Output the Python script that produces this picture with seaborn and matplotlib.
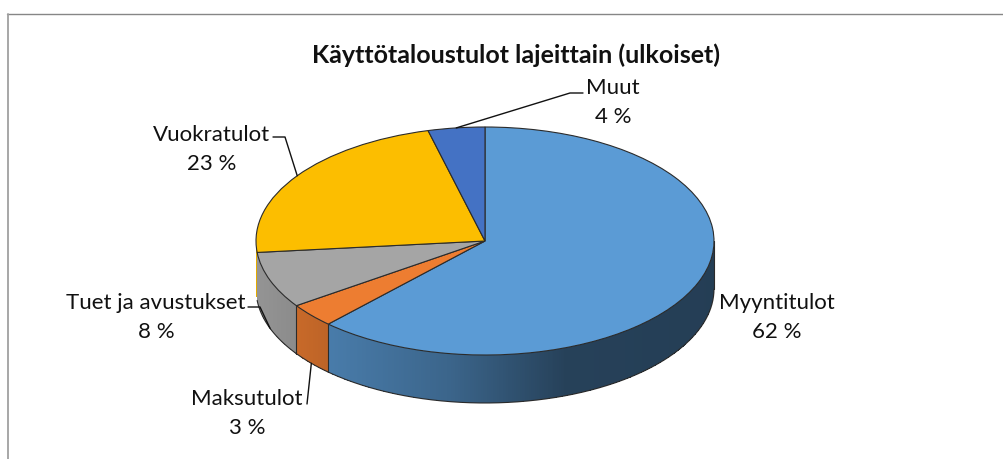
import numpy as np
import matplotlib
matplotlib.use('Agg')
import matplotlib.pyplot as plt
from matplotlib.lines import Line2D
import seaborn as sns

# data
title = 'Käyttötaloustulot lajeittain (ulkoiset)'
categories = ['Myyntitulot', 'Maksutulot', 'Tuet ja avustukset', 'Vuokratulot', 'Muut']
values = [62.0, 3.4, 8.0, 22.6, 4.0]
slice_colors = ['#5B9BD5', '#ED7D31', '#A5A5A5', '#FCBE00', '#4472C4']

W, H = 1004, 459
CX, CY = 485, 241      # centre of the pie top, pixels
RX, RY = 229, 114      # ellipse radii, pixels
DEPTH = 48 / RY        # disc thickness in y units

sns.set_theme(style='white')
plt.rcParams['font.family'] = ['Lato', 'DejaVu Sans']
palette = sns.color_palette(slice_colors)

fig = plt.figure(figsize=(W / 100, H / 100), dpi=100, facecolor='white')
ax = fig.add_axes([0, 0, 1, 1])

# top of the disc
wedges, _ = ax.pie(values, colors=palette, startangle=90, counterclock=False,
                   radius=1, wedgeprops={'edgecolor': '#2b2b2b', 'linewidth': 0.8, 'zorder': 5})
ax.set_aspect('auto')

# clockwise angle from 12 o'clock
edges = np.cumsum([0] + values) / sum(values) * 2 * np.pi
mids = (edges[:-1] + edges[1:]) / 2


def shade(x):
    # side wall gets darker towards the right
    return np.interp(x, [-1, -0.69, -0.15, 0.35, 1], [0.9, 0.8, 0.65, 0.42, 0.40])


# side wall, only the front half of the rim
for i, col in enumerate(palette):
    a0 = max(edges[i], np.pi / 2)
    a1 = min(edges[i + 1], 3 * np.pi / 2)
    if a1 <= a0:
        continue
    th = np.linspace(a0, a1, max(3, int((a1 - a0) * 120)))
    xs, ys = np.sin(th), np.cos(th)
    mesh_x = np.vstack([xs, xs])
    mesh_y = np.vstack([ys - DEPTH, ys])
    xm = (xs[:-1] + xs[1:]) / 2
    rgb = np.array(col)[None, None, :] * shade(xm)[None, :, None]
    ax.pcolormesh(mesh_x, mesh_y, rgb, shading='flat', antialiased=False, zorder=2)
    # the sliver of the yellow slice at the far left has no dark outline
    if categories[i] == 'Vuokratulot':
        continue
    ax.plot(xs, ys - DEPTH, color='#2b2b2b', lw=0.8, zorder=3)
    ax.plot([xs[0], xs[0]], [ys[0], ys[0] - DEPTH], color='#2b2b2b', lw=0.8, zorder=3)
ax.plot([1, 1], [0, -DEPTH], color='#2b2b2b', lw=0.6, zorder=3)
ax.set_xlim(-CX / RX, (W - CX) / RX)
ax.set_ylim(-(H - CY) / RY, CY / RY)


def to_fig(px, py):
    return px / W, 1 - py / H


def to_data(px, py):
    return (px - CX) / RX, (CY - py) / RY


# labels: text centre in pixels, leader knee points
label_pos = [(777, 303), (247, 399), (156, 303), (212, 135), (613, 88)]
leader_via = [None, [(307, 404)], [(248, 307), (260, 307)], [(273, 137), (285, 137)], [(583, 93), (570, 93)]]

for i, name in enumerate(categories):
    px, py = label_pos[i]
    fig.text(*to_fig(px, py), name, fontsize=16, color='#111111', ha='center', va='center')
    fig.text(*to_fig(px, py + 29), f'{values[i]:.0f} %', fontsize=16, color='#111111',
             ha='center', va='center')
    if leader_via[i] is None:
        continue
    # leader ends on the rim at the middle of the slice
    ax_x, ax_y = np.sin(mids[i]), np.cos(mids[i])
    if np.pi / 2 < mids[i] < 3 * np.pi / 2:
        ax_y -= DEPTH
    pts = [to_data(*p) for p in leader_via[i]] + [(ax_x, ax_y)]
    ax.plot([p[0] for p in pts], [p[1] for p in pts], color='#111111', lw=1.0, zorder=6)

fig.text(*to_fig(516, 55), title, fontsize=18, fontweight='bold', color='#111111',
         ha='center', va='center')

# chart frame, cut off at the right and bottom of the picture
fig.add_artist(Line2D([7 / W, 1], [1 - 13.5 / H, 1 - 13.5 / H], color='#868686', lw=1.0))
fig.add_artist(Line2D([8 / W, 8 / W], [1 - 13.5 / H, 0], color='#a0a0a0', lw=1.3))

plt.savefig('out.png', dpi=100, facecolor='white')
